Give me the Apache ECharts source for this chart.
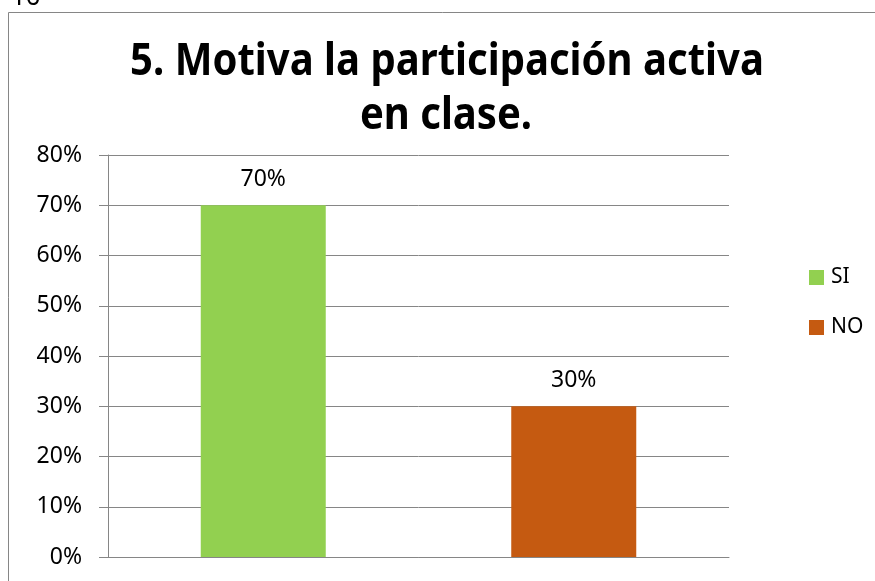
<!DOCTYPE html>
<html>
<head>
<meta charset="utf-8">
<title>Motiva la participación activa</title>
<script src="https://cdn.jsdelivr.net/npm/echarts@6/dist/echarts.min.js"></script>
<style>
  html, body { margin: 0; padding: 0; background: #fff; }
  #chart { width: 875px; height: 581px; }
</style>
</head>
<body>
<div id="chart"></div>
<script>
// datos
const categories = ["SI", "NO"];
const siValues = [70, "-"];
const noValues = ["-", 30];
const yMax = 80;
const yStep = 10;

const titleLines = ["5. Motiva la participación activa", "en clase."];

var myChart = echarts.init(document.getElementById("chart"));
const font = '"Noto Sans", sans-serif';

let option = {
  animation: false,
  color: ["#92D050", "#C55A11"],
  graphic: [
    // marco del grafico (se sale por la derecha y por abajo)
    {
      type: "rect",
      shape: { x: 8.5, y: 12.5, width: 1000, height: 1000 },
      style: { fill: "none", stroke: "#868686", lineWidth: 1 },
    },
    // numero de pagina cortado arriba
    {
      type: "text",
      x: 11,
      y: 11,
      style: {
        text: "10",
        font: '26px ' + font,
        fill: "#000",
        verticalAlign: "bottom",
      },
    },
    {
      type: "text",
      x: 447,
      y: 62,
      scaleX: 0.89,
      style: {
        text: titleLines[0],
        font: "bold 45px " + font,
        fill: "#000",
        align: "center",
        verticalAlign: "middle",
      },
    },
    {
      type: "text",
      x: 446,
      y: 116,
      scaleX: 0.89,
      style: {
        text: titleLines[1],
        font: "bold 45px " + font,
        fill: "#000",
        align: "center",
        verticalAlign: "middle",
      },
    },
  ],
  legend: {
    data: categories,
    orient: "vertical",
    left: 804,
    top: 262,
    itemWidth: 15,
    itemHeight: 15,
    itemGap: 29,
    icon: "rect",
    textStyle: {
      color: "#000",
      fontSize: 21,
      fontFamily: font,
      padding: [0, 0, 0, 2],
    },
  },
  grid: {
    left: 108,
    top: 155,
    width: 621,
    height: 402,
    containLabel: false,
  },
  xAxis: {
    type: "category",
    data: categories,
    axisTick: { show: false },
    axisLabel: { show: false },
    axisLine: { lineStyle: { color: "#868686", width: 1 } },
  },
  yAxis: {
    type: "value",
    min: 0,
    max: yMax,
    interval: yStep,
    axisLine: { show: true, lineStyle: { color: "#868686", width: 1 } },
    axisTick: { show: true, length: 9, lineStyle: { color: "#868686" } },
    splitLine: { lineStyle: { color: "#868686", width: 1 } },
    axisLabel: {
      formatter: "{value}%",
      margin: 26,
      color: "#000",
      fontSize: 23,
      fontFamily: font,
    },
  },
  series: [
    {
      name: "SI",
      type: "bar",
      stack: "total",
      barWidth: 125,
      data: siValues,
      label: {
        show: true,
        position: "top",
        distance: 14,
        formatter: "{c}%",
        color: "#000",
        fontSize: 23,
        fontFamily: font,
      },
    },
    {
      name: "NO",
      type: "bar",
      stack: "total",
      barWidth: 125,
      data: noValues,
      label: {
        show: true,
        position: "top",
        distance: 14,
        formatter: "{c}%",
        color: "#000",
        fontSize: 23,
        fontFamily: font,
      },
    },
  ],
};
myChart.setOption(option);
</script>
</body>
</html>
